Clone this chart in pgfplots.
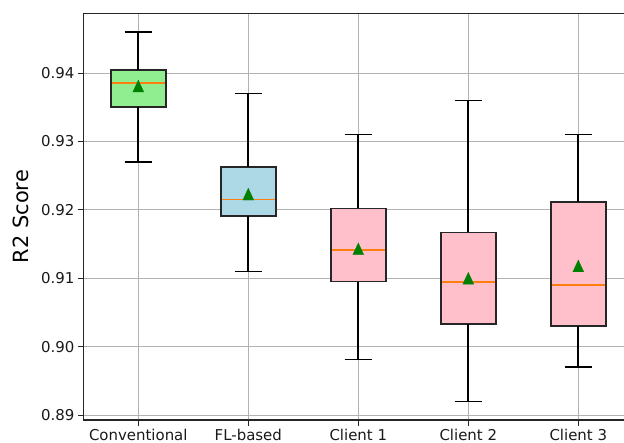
\documentclass[border=0pt]{standalone}
\usepackage{pgfplots}
\pgfplotsset{compat=1.18}
\usepackage{fontspec}
\setmainfont{DejaVu Sans}
\definecolor{cgreen}{RGB}{144,238,144}
\definecolor{cblue}{RGB}{173,216,230}
\definecolor{cpink}{RGB}{255,192,203}
\definecolor{corange}{RGB}{255,127,14}
\definecolor{cmean}{RGB}{0,128,0}
% #1 position, #2 lower whisker, #3 lower quartile, #4 median, #5 upper quartile, #6 upper whisker, #7 colour
\newcommand{\boxitem}[7]{%
  \addplot[fill=#7, draw=black!85, line width=1.6bp, line join=miter] coordinates {(#1-0.25,#3) (#1+0.25,#3) (#1+0.25,#5) (#1-0.25,#5)} -- cycle;
  \addplot[black, line width=1.6bp] coordinates {(#1,#2) (#1,#3)};
  \addplot[black, line width=1.6bp] coordinates {(#1,#5) (#1,#6)};
  \addplot[black, line width=1.6bp] coordinates {(#1-0.125,#2) (#1+0.125,#2)};
  \addplot[black, line width=1.6bp] coordinates {(#1-0.125,#6) (#1+0.125,#6)};
  \addplot[corange, line width=1.8bp] coordinates {(#1-0.25+0.008,#4) (#1+0.25-0.008,#4)};
}
\begin{document}
\begin{tikzpicture}
\path[use as bounding box] (-83.3bp,-23bp) rectangle (540.7bp,420bp);
\clip (-83.3bp,-23bp) rectangle (540.7bp,420bp);
\begin{axis}[
  axis on top=false,
  scale only axis,
  width=550bp, height=406.7bp,
  xmin=0.5, xmax=5.5,
  ymin=0.88927, ymax=0.94873,
  xtick={1,2,3,4,5},
  xticklabels={Conventional,FL-based,Client 1,Client 2,Client 3},
  ytick={0.89,0.90,0.91,0.92,0.93,0.94},
  yticklabel style={/pgf/number format/.cd, fixed, fixed zerofill, precision=2},
  /pgf/number format/assume math mode=true,
  tick label style={font=\fontsize{15}{18}\selectfont, black!90},
  tick align=outside, tick pos=left,
  major tick length=5.5bp,
  every tick/.style={black!85, line width=1bp},
  grid=major,
  major grid style={color=black!30, line width=1bp},
  axis line style={black!85, line width=1.2bp},
  ylabel={R2 Score},
  every axis y label/.style={at={(axis description cs:-0.1142,0.5)}, rotate=90, anchor=center, font=\fontsize{21}{25}\selectfont},
]
\boxitem{1}{0.927}{0.9350}{0.9385}{0.9404}{0.946}{cgreen}
\boxitem{2}{0.911}{0.9191}{0.9215}{0.9263}{0.937}{cblue}
\boxitem{3}{0.8981}{0.9095}{0.9141}{0.9202}{0.931}{cpink}
\boxitem{4}{0.8920}{0.9033}{0.9095}{0.9167}{0.936}{cpink}
\boxitem{5}{0.8970}{0.9030}{0.9090}{0.9211}{0.931}{cpink}
\addplot[only marks, mark=triangle*, mark size=6.3bp, mark options={fill=cmean, draw=cmean, line width=0.3bp, yscale=1.25, yshift=-1.6bp}] coordinates {
  (1,0.9381) (2,0.9223) (3,0.9143) (4,0.9100) (5,0.9118)
};
\end{axis}
\end{tikzpicture}
\end{document}
